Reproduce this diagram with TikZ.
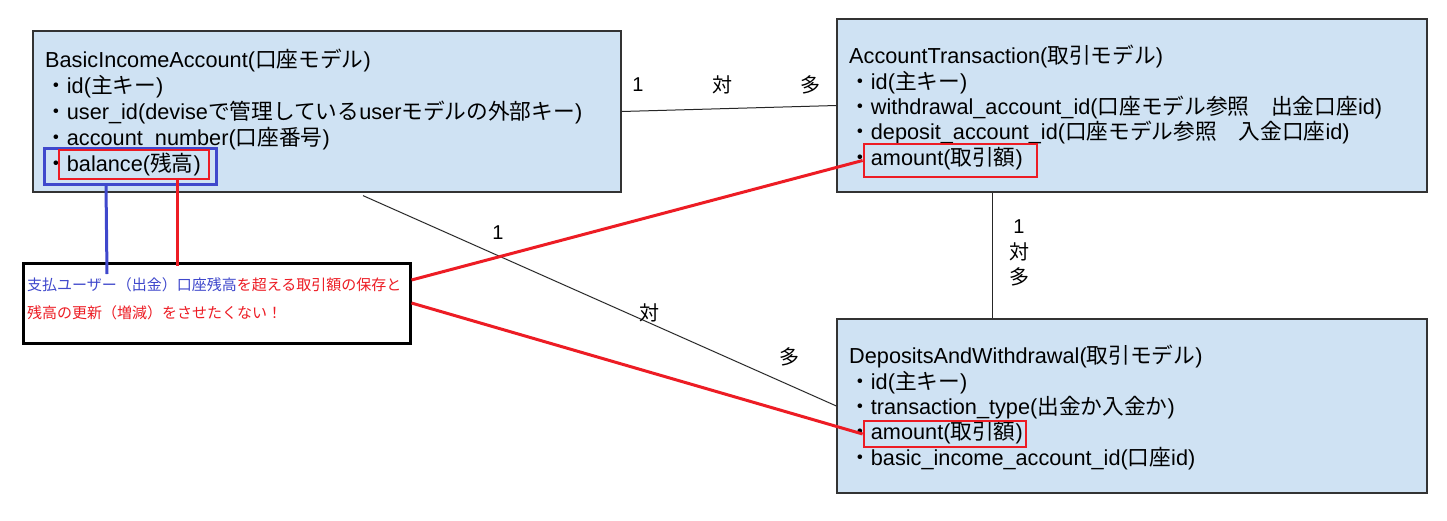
\documentclass[tikz,border=0pt]{standalone}
\usepackage{fontspec}
\setmainfont{Liberation Sans}
\newfontfamily\jpfont{Noto Sans CJK JP}
\newcommand{\jp}[1]{{\jpfont #1}}
\usepackage{xcolor}
\usetikzlibrary{positioning,calc}
\definecolor{modelblue}{RGB}{207,226,243}
\definecolor{markred}{RGB}{237,28,36}
\definecolor{markblue}{RGB}{63,72,204}

\tikzset{
  model/.style={draw=black!80, fill=modelblue, line width=1.2pt, inner sep=0pt},
  field/.style={anchor=base west, inner sep=0pt, font=\fontsize{21.7}{25}\selectfont},
  hlred/.style={draw=markred, line width=2.8pt, inner sep=0pt},
  hlblue/.style={draw=markblue, line width=3pt, inner sep=0pt},
  rel/.style={draw=black!85, line width=1pt},
  hot/.style={draw=markred, line width=3pt},
  hotblue/.style={draw=markblue, line width=3pt},
  tag/.style={inner sep=0pt, font=\fontsize{20}{24}\selectfont},
  notetext/.style={anchor=base west, inner sep=0pt, text=markred, font=\fontsize{15}{18}\selectfont}
}

\begin{document}
\begin{tikzpicture}[x=1pt,y=-1pt]
    \useasboundingbox (0,0) rectangle (1447,520);
    \fill [white] (0,0) rectangle (1447,520);

    % models
    \node [model, minimum width=588pt, minimum height=161pt] (bia) at (327,111.5) {};
    \node [model, minimum width=590pt, minimum height=173pt] (atx) at (1132,105.5) {};
    \node [model, minimum width=590pt, minimum height=174pt] (daw) at (1132,406) {};

    % BasicIncomeAccount
    \node [field] (bia0) at (45,67.7) {BasicIncomeAccount(\jp{口座モデル})};
    \node [field] (bia1) at (45,93.7) {\jp{・}id(\jp{主キー})};
    \node [field] (bia2) at (45,119.7) {\jp{・}user\_id(devise\jp{で管理している}user\jp{モデルの外部キー})};
    \node [field] (bia3) at (45,145.7) {\jp{・}account\_number(\jp{口座番号})};
    \node [field] (bia4) at (45,171.7) {\jp{・}balance(\jp{残高})};

    % AccountTransaction
    \node [field] (atx0) at (849,63.3) {AccountTransaction(\jp{取引モデル})};
    \node [field] (atx1) at (849,89) {\jp{・}id(\jp{主キー})};
    \node [field] (atx2) at (849,114.3) {\jp{・}withdrawal\_account\_id(\jp{口座モデル参照　出金口座}id)};
    \node [field] (atx3) at (849,139) {\jp{・}deposit\_account\_id(\jp{口座モデル参照　入金口座}id)};
    \node [field] (atx4) at (849,165) {\jp{・}amount(\jp{取引額})};

    % DepositsAndWithdrawal
    \node [field] (daw0) at (849,363) {DepositsAndWithdrawal(\jp{取引モデル})};
    \node [field] (daw1) at (849,389) {\jp{・}id(\jp{主キー})};
    \node [field] (daw2) at (849,414) {\jp{・}transaction\_type(\jp{出金か入金か})};
    \node [field] (daw3) at (849,439) {\jp{・}amount(\jp{取引額})};
    \node [field] (daw4) at (849,465) {\jp{・}basic\_income\_account\_id(\jp{口座}id)};

    % highlights
    \node [hlblue, minimum width=172pt, minimum height=36pt] (balblue) at (130,166) {};
    \node [hlred, minimum width=150pt, minimum height=29pt] (balred) at (134,164.5) {};
    \node [hlred, minimum width=173pt, minimum height=33pt] (atxamt) at (950.5,160.5) {};
    \node [hlred, minimum width=162pt, minimum height=26pt] (dawamt) at (945,434) {};

    % note
    \node [draw=black, line width=3pt, minimum width=387pt, minimum height=80pt] (note) at (216.5,303) {};
    \node [notetext] (note1) at (27,290) {\jp{{\color{markblue}支払ユーザー（出金）口座残高}を超える取引額の保存と}};
    \node [notetext] (note2) at (27,318) {\jp{残高の更新（増減）をさせたくない！}};
    \coordinate (blueend) at (107,274);
    \coordinate (redend) at (177,266);

    % relations
    \draw [rel] (bia.east) -- (atx.west);
    \draw [rel] ([xshift=-140pt]atx.south) -- ([xshift=-140pt]daw.north);
    \draw [rel] ([xshift=36pt,yshift=-3pt]bia.south) -- (daw.west);
    \node [tag] (r1a) at (638,85) {1};
    \node [tag] (r1b) at (722,85) {\jp{対}};
    \node [tag] (r1c) at (810,85) {\jp{多}};
    \node [tag] (r2a) at (1019,227) {1};
    \node [tag] (r2b) at (1019,252) {\jp{対}};
    \node [tag] (r2c) at (1019,277) {\jp{多}};
    \node [tag] (r3a) at (498,233) {1};
    \node [tag] (r3b) at (649,313) {\jp{対}};
    \node [tag] (r3c) at (789,357) {\jp{多}};

    % pointers
    \draw [hotblue] ([xshift=-24pt]balblue.south) -- (blueend);
    \draw [hot] ([xshift=43pt]balred.south) -- (redend);
    \draw [hot] ([yshift=23pt]note.east) -- (atxamt.west);
    \draw [hot] (note.east) -- (dawamt.west);
\end{tikzpicture}
\end{document}
